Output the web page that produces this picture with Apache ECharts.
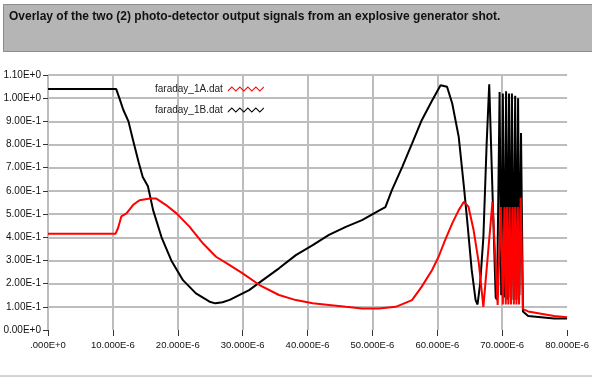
<!DOCTYPE html>
<html>
<head>
<meta charset="utf-8">
<script src="https://cdn.jsdelivr.net/npm/echarts@6/dist/echarts.min.js"></script>
<style>
  html, body { margin: 0; padding: 0; background: #fff; }
  #chart { width: 592px; height: 377px; }
</style>
</head>
<body>
<div id="chart"></div>
<script>
// time in microseconds, signal in volts
const xTickLabels = ['.000E+0', '10.000E-6', '20.000E-6', '30.000E-6', '40.000E-6',
  '50.000E-6', '60.000E-6', '70.000E-6', '80.000E-6']
const yTickLabels = ['0.00E+0', '1.00E-1', '2.00E-1', '3.00E-1', '4.00E-1', '5.00E-1',
  '6.00E-1', '7.00E-1', '8.00E-1', '9.00E-1', '1.00E+0', '1.10E+0']

const seriesNames = ['faraday_1A.dat', 'faraday_1B.dat']

const faraday1A = [
  [0, 0.415], [10.4, 0.415], [10.8, 0.44], [11.3, 0.49], [12.1, 0.503], [13.1, 0.539],
  [14.1, 0.56], [15.7, 0.567], [16.7, 0.567], [18.2, 0.539], [19.8, 0.503], [21.8, 0.446],
  [23.9, 0.373], [25.9, 0.316], [28.0, 0.28], [30.0, 0.244], [32.6, 0.194], [35.6, 0.151],
  [38.2, 0.129], [40.8, 0.115], [43.3, 0.108], [45.9, 0.1], [48.4, 0.093], [51.0, 0.093],
  [53.6, 0.1], [56.1, 0.129], [57.6, 0.187], [59.2, 0.259], [60.2, 0.316], [61.2, 0.388],
  [62.3, 0.46], [63.3, 0.517], [64.1, 0.553], [64.8, 0.532], [65.6, 0.43], [66.4, 0.287],
  [67.1, 0.1], [68.5, 0.553], [69.3, 0.108], [69.8, 0.53], [70.1, 0.11], [70.35, 0.53],
  [70.55, 0.11], [70.75, 0.53], [70.95, 0.11], [71.15, 0.53], [71.35, 0.11], [71.6, 0.53],
  [71.8, 0.11], [72.0, 0.53], [72.2, 0.11], [72.4, 0.53], [72.6, 0.11], [72.85, 0.57],
  [73.2, 0.09], [74, 0.08], [76, 0.07], [78, 0.06], [80, 0.055],
]

const faraday1B = [
  [0, 1.04], [10.5, 1.04], [11.0, 1.0], [11.6, 0.95], [12.4, 0.9], [13.1, 0.82],
  [14.0, 0.72], [14.6, 0.66], [15.4, 0.62], [16.2, 0.517], [17.5, 0.4], [19.0, 0.3],
  [20.8, 0.215], [22.8, 0.158], [24.9, 0.122], [25.8, 0.115], [26.9, 0.12], [28.0, 0.13],
  [31.0, 0.172], [33.1, 0.215], [35.6, 0.266], [38.2, 0.323], [40.8, 0.366], [43.3, 0.41],
  [45.9, 0.445], [48.4, 0.474], [51.0, 0.515], [52.0, 0.53], [53.0, 0.603], [54.6, 0.704],
  [56.1, 0.804], [57.6, 0.905], [59.2, 0.99], [60.5, 1.056], [61.5, 1.049], [62.3, 0.977],
  [63.3, 0.833], [64.1, 0.618], [64.6, 0.474], [65.3, 0.259], [65.9, 0.129], [66.2, 0.11],
  [66.6, 0.2], [67.1, 0.4], [67.6, 0.8], [68.0, 1.06], [68.4, 0.69], [69.0, 0.14],
  [69.2, 0.13], [69.6, 1.027], [69.85, 0.15], [70.1, 1.02], [70.35, 0.14], [70.6, 1.03],
  [70.8, 0.13], [71.05, 1.02], [71.3, 0.14], [71.5, 1.02], [71.75, 0.13], [72.0, 1.01],
  [72.2, 0.13], [72.45, 1.0], [72.65, 0.15], [72.9, 0.85], [73.2, 0.08], [74, 0.06],
  [76, 0.055], [78, 0.05], [80, 0.05],
]

const zigzag = 'path://M0,6L4,2L8,6L12,2L16,6L20,2L24,6L28,2L32,6L36,2L36,3.4L32,7.4L28,3.4L24,7.4L20,3.4L16,7.4L12,3.4L8,7.4L4,3.4L0,7.4Z'
const font = 'Liberation Sans, Arial, sans-serif'

const chart = echarts.init(document.getElementById('chart'))
chart.setOption({
  animation: false,
  backgroundColor: '#fff',
  title: {
    text: 'Overlay of the two (2) photo-detector output signals from an explosive generator shot.',
    left: 4,
    top: 6,
    textStyle: { fontFamily: font, fontSize: 12, fontWeight: 'bold', color: '#111' },
    z: 10,
  },
  graphic: [
    {
      type: 'rect',
      shape: { x: 3.5, y: 4.5, width: 600, height: 47 },
      style: { fill: '#b5b5b5', stroke: '#8a8a8a', lineWidth: 1 },
      z: 0,
    },
    {
      type: 'line',
      shape: { x1: 0, y1: 376, x2: 592, y2: 376 },
      style: { stroke: '#a8a8a8', lineWidth: 1 },
    },
  ],
  legend: {
    orient: 'vertical',
    left: 150,
    top: 79,
    align: 'right',
    itemWidth: 36,
    itemHeight: 10,
    itemGap: 11,
    textStyle: { fontFamily: font, fontSize: 10, color: '#222' },
    data: seriesNames.map((name) => ({ name, icon: zigzag })),
  },
  grid: { left: 48, right: 23, top: 75, bottom: 47 },
  xAxis: {
    type: 'value',
    min: 0,
    max: 80,
    interval: 10,
    axisLine: { show: false },
    axisTick: { show: true, length: 6, lineStyle: { color: '#333' } },
    axisLabel: {
      margin: 10,
      fontFamily: font,
      fontSize: 9.5,
      color: '#111',
      formatter: (v) => xTickLabels[Math.round(v / 10)],
    },
    splitLine: { show: true, showMaxLine: false, lineStyle: { color: '#bdbdbd', width: 2 } },
  },
  yAxis: {
    type: 'value',
    min: 0,
    max: 1.1,
    interval: 0.1,
    axisLine: { show: false },
    axisTick: { show: true, length: 5, lineStyle: { color: '#333' } },
    axisLabel: {
      margin: 7,
      fontFamily: font,
      fontSize: 10,
      color: '#111',
      formatter: (v) => yTickLabels[Math.round(v * 10)],
    },
    splitLine: { show: true, showMinLine: false, lineStyle: { color: '#bdbdbd', width: 2 } },
  },
  series: [
    {
      name: seriesNames[1],
      type: 'line',
      data: faraday1B,
      showSymbol: false,
      color: '#000000',
      lineStyle: { width: 2, color: '#000000' },
    },
    {
      name: seriesNames[0],
      type: 'line',
      data: faraday1A,
      showSymbol: false,
      color: '#ff0000',
      lineStyle: { width: 2, color: '#ff0000' },
    },
  ],
})
</script>
</body>
</html>
